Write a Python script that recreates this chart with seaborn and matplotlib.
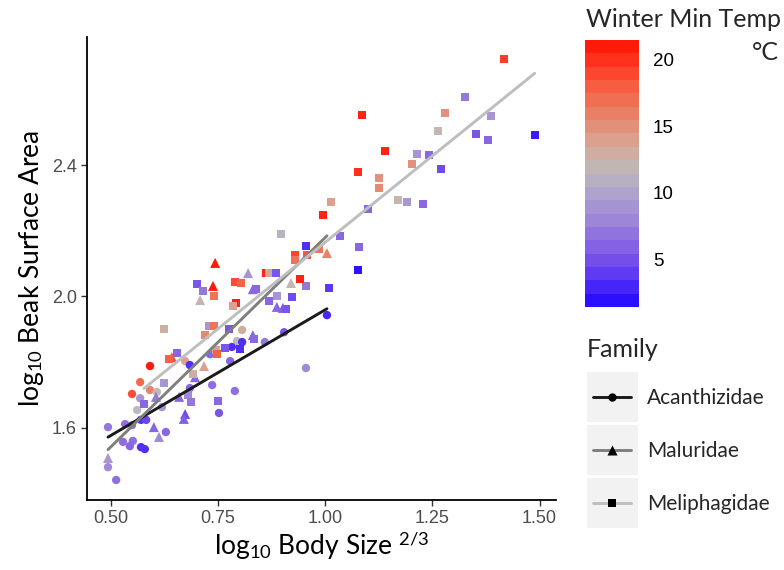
import numpy as np
import pandas as pd
import matplotlib
matplotlib.use("Agg")
import matplotlib.pyplot as plt
import seaborn as sns
from matplotlib.colors import LinearSegmentedColormap, Normalize
from matplotlib.cm import ScalarMappable
from matplotlib.patches import Rectangle
from matplotlib.lines import Line2D

# ---------------- data ----------------
families = ["Acanthizidae", "Maluridae", "Meliphagidae"]

aca_body = [1.004, 0.955, 0.904, 0.859, 0.806, 0.794, 0.806, 0.782, 0.778, 0.731,
            0.673, 0.591, 0.684, 0.568, 0.736, 0.684, 0.789, 0.591, 0.549, 0.607,
            0.568, 0.619, 0.561, 0.752, 0.570, 0.582, 0.533, 0.549, 0.493, 0.628,
            0.528, 0.551, 0.544, 0.570, 0.579, 0.493, 0.512]
aca_beak = [1.943, 1.782, 1.891, 1.861, 1.898, 1.864, 1.861, 1.846, 1.803, 1.824,
            1.803, 1.788, 1.791, 1.739, 1.730, 1.721, 1.712, 1.715, 1.703, 1.709,
            1.690, 1.663, 1.654, 1.645, 1.624, 1.624, 1.611, 1.608, 1.602, 1.587,
            1.557, 1.560, 1.544, 1.541, 1.535, 1.480, 1.441]
aca_temp = [2.5, 8, 5, 7, 13, 11.5, 3, 3, 6, 6,
            14, 21.5, 3, 17.5, 6.5, 6, 6.5, 16, 19, 12,
            9, 9, 11.5, 5, 3, 4, 6.5, 6.5, 7, 6,
            6.5, 6.5, 6, 3, 3, 8, 6.5]

mal_body = [1.004, 0.743, 0.820, 0.738, 0.920, 0.708, 0.831, 0.887, 0.901, 0.642,
            0.717, 0.831, 0.696, 0.605, 0.659, 0.673, 0.670, 0.600, 0.612, 0.493]
mal_beak = [2.132, 2.102, 2.071, 2.032, 2.041, 1.989, 2.022, 1.968, 1.965, 1.815,
            1.788, 1.882, 1.754, 1.694, 1.694, 1.642, 1.627, 1.602, 1.572, 1.508]
mal_temp = [16, 21.5, 9, 21.5, 12, 12, 6, 6, 5.5, 19,
            14, 6, 6, 7, 6, 4.5, 5.5, 6, 8, 9]

mel_body = [1.417, 1.326, 1.279, 1.387, 1.086, 1.263, 1.352, 1.380, 1.489, 1.214,
            1.242, 1.139, 1.202, 1.270, 1.076, 1.125, 1.125, 1.013, 1.170, 1.191,
            1.228, 0.995, 1.100, 1.034, 0.897, 0.955, 1.079, 0.985, 0.929, 0.957,
            0.929, 1.076, 1.009, 0.955, 0.941, 0.862, 0.869, 0.885, 0.701, 0.715,
            0.789, 0.803, 0.740, 0.792, 0.785, 0.838, 0.887, 0.922, 0.869, 0.908,
            0.729, 0.740, 0.775, 0.624, 0.719, 0.834, 0.766, 0.801, 0.745, 0.747,
            0.654, 0.635, 0.691, 0.624, 0.680, 0.687, 0.750, 0.577]
mel_beak = [2.723, 2.607, 2.558, 2.549, 2.552, 2.504, 2.494, 2.476, 2.491, 2.433,
            2.430, 2.443, 2.403, 2.388, 2.379, 2.360, 2.330, 2.287, 2.293, 2.287,
            2.281, 2.248, 2.266, 2.184, 2.190, 2.153, 2.150, 2.144, 2.126, 2.126,
            2.111, 2.080, 2.025, 2.032, 2.053, 2.071, 2.071, 2.071, 2.038, 2.016,
            2.044, 2.041, 2.001, 1.980, 1.971, 2.022, 2.001, 1.998, 1.986, 1.962,
            1.910, 1.910, 1.901, 1.901, 1.882, 1.870, 1.843, 1.840, 1.837, 1.824,
            1.828, 1.809, 1.764, 1.736, 1.700, 1.678, 1.681, 1.672]
mel_temp = [20, 7, 15, 9, 21, 12, 5, 6, 2, 9,
            6, 21, 15, 4.5, 20.5, 15, 15.5, 14, 12, 9,
            6, 21, 6, 6, 11, 3, 6, 17, 19.5, 18.5,
            17, 1.5, 3.5, 7, 21, 21, 13.5, 5, 5, 7,
            19, 18, 17, 21, 14, 6, 9, 4.5, 6, 5,
            9, 17, 5, 13, 15.5, 6, 5, 3, 13.5, 18,
            6, 18, 13, 9, 8, 7, 6, 6]

temp_limits = (1.4, 21.5)
cbar_ticks = [5, 10, 15, 20]
x_ticks = [0.50, 0.75, 1.00, 1.25, 1.50]
y_ticks = [1.6, 2.0, 2.4]

df = pd.DataFrame({
    "Family": ["Acanthizidae"] * len(aca_body) + ["Maluridae"] * len(mal_body)
              + ["Meliphagidae"] * len(mel_body),
    "body": aca_body + mal_body + mel_body,
    "beak": aca_beak + mal_beak + mel_beak,
    "temp": aca_temp + mal_temp + mel_temp,
})

# ---------------- style ----------------
sns.set_theme(style="white")
plt.rcParams['font.family'] = ['Lato', 'DejaVu Sans']
plt.rcParams['mathtext.fontset'] = 'custom'
plt.rcParams['mathtext.rm'] = 'Lato'
plt.rcParams['mathtext.it'] = 'Lato:italic'
plt.rcParams['mathtext.bf'] = 'Lato:bold'

cmap = LinearSegmentedColormap.from_list("temp", [
    (0.00, "#2a10ff"), (0.06, "#4a28f8"), (0.13, "#6a44ef"), (0.23, "#8a68e2"),
    (0.33, "#a08ad6"), (0.43, "#b0a4cc"), (0.50, "#bcb8c0"), (0.55, "#c8b4ac"),
    (0.63, "#dba08f"), (0.73, "#e88268"), (0.83, "#f56245"), (0.92, "#ff3d25"),
    (1.00, "#ff1a0a")])
norm = Normalize(*temp_limits)

markers = {"Acanthizidae": "o", "Maluridae": "^", "Meliphagidae": "s"}
msize = {"Acanthizidae": 36, "Maluridae": 52, "Meliphagidae": 34}
line_colors = {"Acanthizidae": "#1a1a1a", "Maluridae": "#7f7f7f", "Meliphagidae": "#bebebe"}

fig = plt.figure(figsize=(7.84, 5.70), dpi=100)
W, H = 784, 570
ax = fig.add_axes([86.7 / W, 1 - 500 / H, (556 - 86.7) / W, (500 - 37) / H])

for fam in families:
    sub = df[df.Family == fam]
    sns.scatterplot(data=sub, x="body", y="beak", hue="temp", palette=cmap,
                    hue_norm=norm, marker=markers[fam], s=msize[fam],
                    linewidth=0, legend=False, ax=ax, zorder=2)
for fam in families:
    sub = df[df.Family == fam]
    sns.regplot(data=sub, x="body", y="beak", scatter=False, ci=None, ax=ax,
                line_kws=dict(color=line_colors[fam], lw=2.1, zorder=3))

ax.set_xlim(0.4433, 1.5385)
ax.set_ylim(1.380, 2.79)
ax.set_xticks(x_ticks)
ax.set_xticklabels([f"{v:.2f}" for v in x_ticks])
ax.set_yticks(y_ticks)
ax.set_yticklabels([f"{v:.1f}" for v in y_ticks])
for s in ["top", "right"]:
    ax.spines[s].set_visible(False)
for s in ["left", "bottom"]:
    ax.spines[s].set_color("black")
    ax.spines[s].set_linewidth(1.3)
ax.tick_params(axis="both", length=4, width=1, color="#333333", labelcolor="#4d4d4d",
               labelsize=13, bottom=True, left=True, pad=3)
for lab in ax.get_xticklabels() + ax.get_yticklabels():
    lab.set_family("Liberation Sans")
ax.set_xlabel(r"log$_{10}$ Body Size $^{2/3}$", fontsize=19, color="black", labelpad=2)
ax.set_ylabel(r"log$_{10}$ Beak Surface Area", fontsize=19, color="black", labelpad=4)

# ---------------- colorbar ----------------
cax = fig.add_axes([585 / W, 1 - 307 / H, 54 / W, 267 / H])
cb = fig.colorbar(ScalarMappable(norm=norm, cmap=cmap.resampled(20)), cax=cax)
cb.outline.set_visible(False)
cb.set_ticks(cbar_ticks)
cb.minorticks_off()
cax.tick_params(axis="y", direction="in", color="white", length=8, width=1,
                left=True, right=True, labelleft=False, labelright=True,
                labelcolor="black", labelsize=13.5, pad=10)
for lab in cax.get_yticklabels():
    lab.set_family("Liberation Sans")
fig.text(781 / W, 1 - 27 / H, "Winter Min Temp", ha="right", va="baseline", fontsize=18)
fig.text(779 / W, 1 - 60 / H, "°C", ha="right", va="baseline", fontsize=18)

# ---------------- family legend ----------------
lax = fig.add_axes([0, 0, 1, 1], facecolor="none")
lax.set_xlim(0, W)
lax.set_ylim(H, 0)
lax.axis("off")
lax.text(587, 357, "Family", fontsize=18, va="baseline", ha="left")
key_top = [372, 425, 478]
for fam, top in zip(families, key_top):
    lax.add_patch(Rectangle((587, top), 51, 50, facecolor="#f2f2f2", edgecolor="none"))
    cy = top + 25
    lax.add_line(Line2D([593, 631], [cy, cy], color=line_colors[fam], lw=2.1))
    lax.scatter([612], [cy], marker=markers[fam], s=msize[fam], color="black",
                linewidth=0, zorder=3)
    lax.text(647, cy + 1, fam, fontsize=15, va="center", ha="left")

fig.savefig("out.png", dpi=100)
